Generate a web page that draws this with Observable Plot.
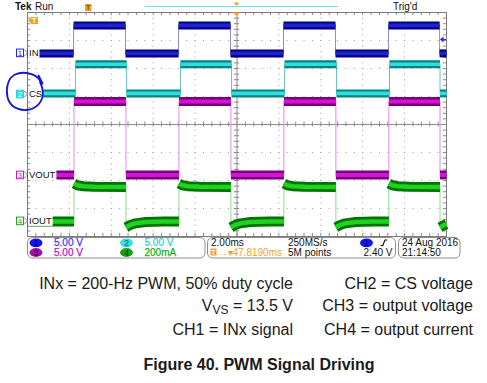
<!DOCTYPE html>
<html><head><meta charset="utf-8">
<script src="https://cdn.jsdelivr.net/npm/d3@7"></script>
<script src="https://cdn.jsdelivr.net/npm/@observablehq/plot@0.6"></script>
<style>
body{margin:0;background:#fff;}
#chart{width:487px;height:383px;}
</style></head><body><div id="chart"></div>
<script>
// ---- data (time in ms, 2 ms/div; vertical in divisions) ----
const channelNames = ["IN", "CS", "VOUT", "IOUT"];
const channelScale = [5, 5, 5, 200];          // V/div, V/div, V/div, mA/div
const channelScaleLabels = ["5.00 V", "5.00 V", "5.00 V", "200mA"];
const channelOffset = [2.54, 1.07, -1.82, -3.46]; // ground marker position (div)

// CH1 = INx signal (V)
const inTimes  = [-10, -7.80, -5.32, -2.79, -0.31, 2.22, 4.70, 7.23, 9.67, 10];
const inLevels = [0, 5.0, 0, 5.0, 0, 5.0, 0, 5.0, 0];
// CH2 = CS voltage (V)
const csTimes  = [-10, -7.71, -5.27, -2.70, -0.26, 2.27, 4.75, 7.28, 9.69, 10];
const csLevels = [0.2, 5.4, 0.2, 5.4, 0.2, 5.4, 0.2, 5.4, 0.2];
// CH3 = output voltage (V)
const voutTimes  = [-10, -7.78, -5.30, -2.77, -0.29, 2.24, 4.72, 7.25, 9.69, 10];
const voutLevels = [0.1, 13.2, 0.1, 13.2, 0.1, 13.2, 0.1, 13.2, 0.1];
// CH4 = output current (mA), segment by segment [t, mA]
const ioutSegments = [
  [[-10, 0], [-7.78, 0]],
  [[-7.78, 270], [-7.62, 258], [-7.35, 251], [-6.80, 247], [-5.30, 245]],
  [[-5.30, -42], [-5.12, -27], [-4.85, -14], [-4.35, -5], [-3.50, -1], [-2.77, 0]],
  [[-2.77, 270], [-2.61, 258], [-2.34, 251], [-1.79, 247], [-0.29, 245]],
  [[-0.29, -42], [-0.11, -27], [0.16, -14], [0.66, -5], [1.51, -1], [2.24, 0]],
  [[2.24, 270], [2.40, 258], [2.67, 251], [3.22, 247], [4.72, 245]],
  [[4.72, -42], [4.90, -27], [5.17, -14], [5.67, -5], [6.52, -1], [7.25, 0]],
  [[7.25, 270], [7.41, 258], [7.68, 251], [8.23, 247], [9.69, 245]],
  [[9.69, -42], [9.87, -27], [10, -20]]
];
const triggerLevel = 2.40; // V on CH1

// ---- build rows ----
function stepRows(times, levels, ch) {
  const rows = [];
  levels.forEach((lv, i) => {
    const y = channelOffset[ch] + lv / channelScale[ch];
    rows.push({t: times[i], y, seg: i});
    rows.push({t: times[i + 1], y, seg: i});
  });
  return rows;
}
const rowsIN = stepRows(inTimes, inLevels, 0);
const rowsCS = stepRows(csTimes, csLevels, 1);
const rowsVOUT = stepRows(voutTimes, voutLevels, 2);
const rowsIOUT = ioutSegments.flatMap((s, i) => s.map(([t, v]) => ({t, y: channelOffset[3] + v / channelScale[3], seg: i})));

const styles = [
  {dark: "#00008e", bright: "#2222c8", edge: "#8c8cd2", w: 8},
  {dark: "#008585", bright: "#35dcdc", edge: "#66c6c6", w: 8},
  {dark: "#780078", bright: "#d414d4", edge: "#e486ea", w: 9},
  {dark: "#007400", bright: "#22d022", edge: "#84e084", w: 10}
];

function traceMarks(rows, s) {
  return [
    Plot.line(rows, {x: "t", y: "y", stroke: s.edge, strokeWidth: 1}),
    Plot.line(rows, {x: "t", y: "y", z: "seg", stroke: s.dark, strokeWidth: s.w, strokeLinecap: "butt"}),
    Plot.line(rows, {x: "t", y: "y", z: "seg", stroke: s.bright, strokeWidth: s.w * 0.45, strokeLinecap: "butt"})
  ];
}

// graticule
const gridColor = "#9c9c9c";
const divX = d3.range(-8, 9, 2).filter(d => d !== 0);
const divY = d3.range(-3, 4).filter(d => d !== 0);
const minorX = d3.range(-10, 10.001, 0.4).map(d => +d.toFixed(2));
const minorY = d3.range(-4, 4.001, 0.2).map(d => +d.toFixed(2));

const plot = Plot.plot({
  width: 487, height: 383,
  marginTop: 12, marginBottom: 147, marginLeft: 27, marginRight: 41,
  x: {domain: [-10, 10], axis: null},
  y: {domain: [-4, 4], axis: null},
  style: {background: "white", overflow: "visible"},
  marks: [
    Plot.ruleX(divX, {stroke: gridColor, strokeDasharray: "1 4.6"}),
    Plot.ruleY(divY, {stroke: gridColor, strokeDasharray: "1 7.38"}),
    Plot.ruleX([0], {stroke: "#8c8c8c"}),
    Plot.ruleY([0], {stroke: "#8c8c8c"}),
    Plot.ruleX(minorX, {x: d => d, y1: -0.09, y2: 0.09, stroke: "#8c8c8c"}),
    Plot.ruleY(minorY, {y: d => d, x1: -0.13, x2: 0.13, stroke: "#8c8c8c"}),
    Plot.ruleX(minorX, {x: d => d, y1: 4, y2: 3.89, stroke: "#8c8c8c"}),
    Plot.ruleX(minorX, {x: d => d, y1: -4, y2: -3.89, stroke: "#8c8c8c"}),
    Plot.ruleY(minorY, {y: d => d, x1: -10, x2: -9.85, stroke: "#8c8c8c"}),
    Plot.ruleY(minorY, {y: d => d, x1: 10, x2: 9.85, stroke: "#8c8c8c"}),
    Plot.frame({stroke: "#7c7c7c"}),
    ...traceMarks(rowsIOUT, styles[3]),
    ...traceMarks(rowsVOUT, styles[2]),
    ...traceMarks(rowsCS, styles[1]),
    ...traceMarks(rowsIN, styles[0])
  ]
});
document.getElementById("chart").appendChild(plot);

// ---- overlays ----
const sx = plot.scale("x"), sy = plot.scale("y");
const X = v => sx.apply(v), Y = v => sy.apply(v);
const svg = d3.select(plot);
const tekFont = "'Liberation Sans', Arial, sans-serif";
const capFont = "'Liberation Sans', Arial, sans-serif";
const orange = "#f4a12c";
const chColors = ["#2222ff", "#2fd6d6", "#c01cc0", "#1aa81a"];
const chText = ["#3c3cff", "#2ed2d2", "#c020c0", "#20ae20"];

// top bar
const g = svg.append("g").attr("text-anchor", "start").attr("font-family", tekFont);
g.append("text").attr("x", 15).attr("y", 9.5).attr("font-size", 10).attr("font-weight", "bold").attr("fill", "#111").text("Tek");
g.append("text").attr("x", 35).attr("y", 9.5).attr("font-size", 10).attr("fill", "#111").text("Run");
g.append("text").attr("x", 393).attr("y", 9.5).attr("font-size", 10).attr("fill", "#111").text("Trig'd");
g.append("line").attr("x1", 145).attr("x2", 338).attr("y1", 6.5).attr("y2", 6.5).attr("stroke", "#6ee4e4").attr("stroke-width", 1.2);
g.append("rect").attr("x", 85).attr("y", 4).attr("width", 6.5).attr("height", 7).attr("fill", orange);
g.append("text").attr("x", 88.2).attr("y", 10).attr("text-anchor", "middle").attr("font-size", 7).attr("font-weight", "bold").attr("fill", "#8a5000").text("T");
g.append("path").attr("d", `M${X(0) - 3},2.5 L${X(0) + 3},2.5 L${X(0)},6 Z`).attr("fill", orange);
g.append("path").attr("d", `M${X(0) - 3.5},12.5 L${X(0) + 3.5},12.5 L${X(0)},16 Z`).attr("fill", orange);
// off-screen trigger indicator at left
g.append("path").attr("d", "M28,20.5 L31.5,17 L38,17 L38,24 L31.5,24 Z").attr("fill", orange);
g.append("text").attr("x", 34.2).attr("y", 23.2).attr("text-anchor", "middle").attr("font-size", 7).attr("font-weight", "bold").attr("fill", "#fff").text("T");
// trigger level arrow on right
const ty = Y(channelOffset[0] + triggerLevel / channelScale[0]);
g.append("path").attr("d", `M${X(10) - 6},${ty} L${X(10) - 2.5},${ty - 3} L${X(10) - 2.5},${ty + 3} Z`).attr("fill", chColors[0]);
g.append("line").attr("x1", X(10) - 3).attr("x2", X(10)).attr("y1", ty).attr("y2", ty).attr("stroke", chColors[0]);

// channel ground markers and labels
channelNames.forEach((name, i) => {
  const yy = Y(channelOffset[i]);
  const filled = i === 1;
  g.append("rect").attr("x", 16.5).attr("y", yy - 3.8).attr("width", 7).attr("height", 7.6)
    .attr("fill", filled ? "#38d8d8" : "#fff").attr("stroke", chColors[i]).attr("stroke-width", 1);
  g.append("text").attr("x", 20).attr("y", yy + 3).attr("text-anchor", "middle")
    .attr("font-size", 8).attr("fill", filled ? "#fff" : chColors[i]).text(String(i + 1));
  g.append("path").attr("d", `M24,${yy - 3.5} L27.5,${yy} L24,${yy + 3.5}`).attr("fill", "none").attr("stroke", "#777").attr("stroke-width", 0.9);
  const t = g.append("text").attr("x", 29).attr("y", yy + 3.4).attr("font-size", 9.5).attr("fill", "#111").text(name);
  const w = t.node().getComputedTextLength();
  g.insert("rect", () => t.node()).attr("x", 28).attr("y", yy - 5).attr("width", w + 2).attr("height", 10).attr("fill", "#fff");
});

// hand-drawn circle around CH2 marker
g.append("path")
  .attr("d", "M38.5,75.5 L42.5,83.5 M40,81 C37,74 24,70.5 15,74.5 C8,78 5.5,88 7.5,97 C9.5,106 17,110.5 26,110 C35,109.5 42,103 42.8,95 C43.2,90 42,86 40,82")
  .attr("fill", "none").attr("stroke", "#1414e0").attr("stroke-width", 1.8).attr("stroke-linecap", "round");

// ---- status panel ----
const sp = svg.append("g").attr("font-family", tekFont).attr("font-size", 10).attr("text-anchor", "start");
[[27.5, 177.5], [207.5, 188], [398.5, 61.5]].forEach(([x, w]) => {
  sp.append("rect").attr("x", x).attr("y", 237.5).attr("width", w).attr("height", 20.5).attr("rx", 5)
    .attr("fill", "#fff").attr("stroke", "#8e8e8e");
});
const rowY = [246, 255.7];
const ellFill = ["#1414f2", "#34e0e0", "#a010a6", "#14a414"];
const ellText = ["#000070", "#006868", "#2c002c", "#002c00"];
const pos = [[36, 0], [126.5, 0], [36, 1], [126.5, 1]];
[0, 1, 2, 3].forEach(i => {
  const [cx, r] = pos[i];
  sp.append("ellipse").attr("cx", cx).attr("cy", rowY[r] - 3.2).attr("rx", 6.5).attr("ry", 4.4).attr("fill", ellFill[i]);
  sp.append("text").attr("x", cx).attr("y", rowY[r]).attr("text-anchor", "middle").attr("font-size", 8.5).attr("fill", ellText[i]).text(String(i + 1));
  sp.append("text").attr("x", cx + 18).attr("y", rowY[r]).attr("fill", chText[i]).attr("stroke", chText[i]).attr("stroke-width", 0.25).text(channelScaleLabels[i]);
});
sp.append("text").attr("x", 211).attr("y", rowY[0]).attr("fill", "#111").text("2.00ms");
sp.append("rect").attr("x", 210.5).attr("y", 248.5).attr("width", 6).attr("height", 7).attr("fill", orange);
sp.append("text").attr("x", 213.5).attr("y", 254.8).attr("text-anchor", "middle").attr("font-size", 7).attr("font-weight", "bold").attr("fill", "#fff").text("T");
sp.append("text").attr("x", 217.5).attr("y", rowY[1]).attr("fill", orange).text("→▾47.8190ms");
sp.append("text").attr("x", 288).attr("y", rowY[0]).attr("fill", "#111").text("250MS/s");
sp.append("text").attr("x", 288).attr("y", rowY[1]).attr("fill", "#111").text("5M points");
sp.append("ellipse").attr("cx", 366.5).attr("cy", rowY[0] - 3.2).attr("rx", 6.5).attr("ry", 4.4).attr("fill", ellFill[0]);
sp.append("text").attr("x", 366.5).attr("y", rowY[0]).attr("text-anchor", "middle").attr("font-size", 8.5).attr("fill", ellText[0]).text("1");
sp.append("path").attr("d", "M380.5,245.5 L382.8,245.5 L385,240 L387.3,240").attr("fill", "none").attr("stroke", "#111").attr("stroke-width", 1.2);
sp.append("text").attr("x", 392.5).attr("y", rowY[1]).attr("text-anchor", "end").attr("fill", "#111").text(triggerLevel.toFixed(2) + " V");
sp.append("text").attr("x", 402).attr("y", rowY[0]).attr("fill", "#111").text("24 Aug 2016");
sp.append("text").attr("x", 402).attr("y", rowY[1]).attr("fill", "#111").text("21:14:50");

// ---- caption ----
const cap = svg.append("g").attr("font-family", capFont).attr("font-size", 16).attr("fill", "#1a1a1a");
cap.append("text").attr("x", 293).attr("y", 288.5).attr("text-anchor", "end").text("INx = 200-Hz PWM, 50% duty cycle");
const v2 = cap.append("text").attr("x", 293).attr("y", 310.5).attr("text-anchor", "end");
v2.append("tspan").text("V");
v2.append("tspan").attr("font-size", 12).attr("dy", 3).text("VS");
v2.append("tspan").attr("dy", -3).text(" = 13.5 V");
cap.append("text").attr("x", 293).attr("y", 334.5).attr("text-anchor", "end").text("CH1 = INx signal");
cap.append("text").attr("x", 473).attr("y", 288.5).attr("text-anchor", "end").text("CH2 = CS voltage");
cap.append("text").attr("x", 473).attr("y", 310.5).attr("text-anchor", "end").text("CH3 = output voltage");
cap.append("text").attr("x", 473).attr("y", 334.5).attr("text-anchor", "end").text("CH4 = output current");
cap.append("text").attr("x", 259).attr("y", 369.5).attr("text-anchor", "middle").attr("font-weight", "bold").text("Figure 40. PWM Signal Driving");
</script></body></html>
